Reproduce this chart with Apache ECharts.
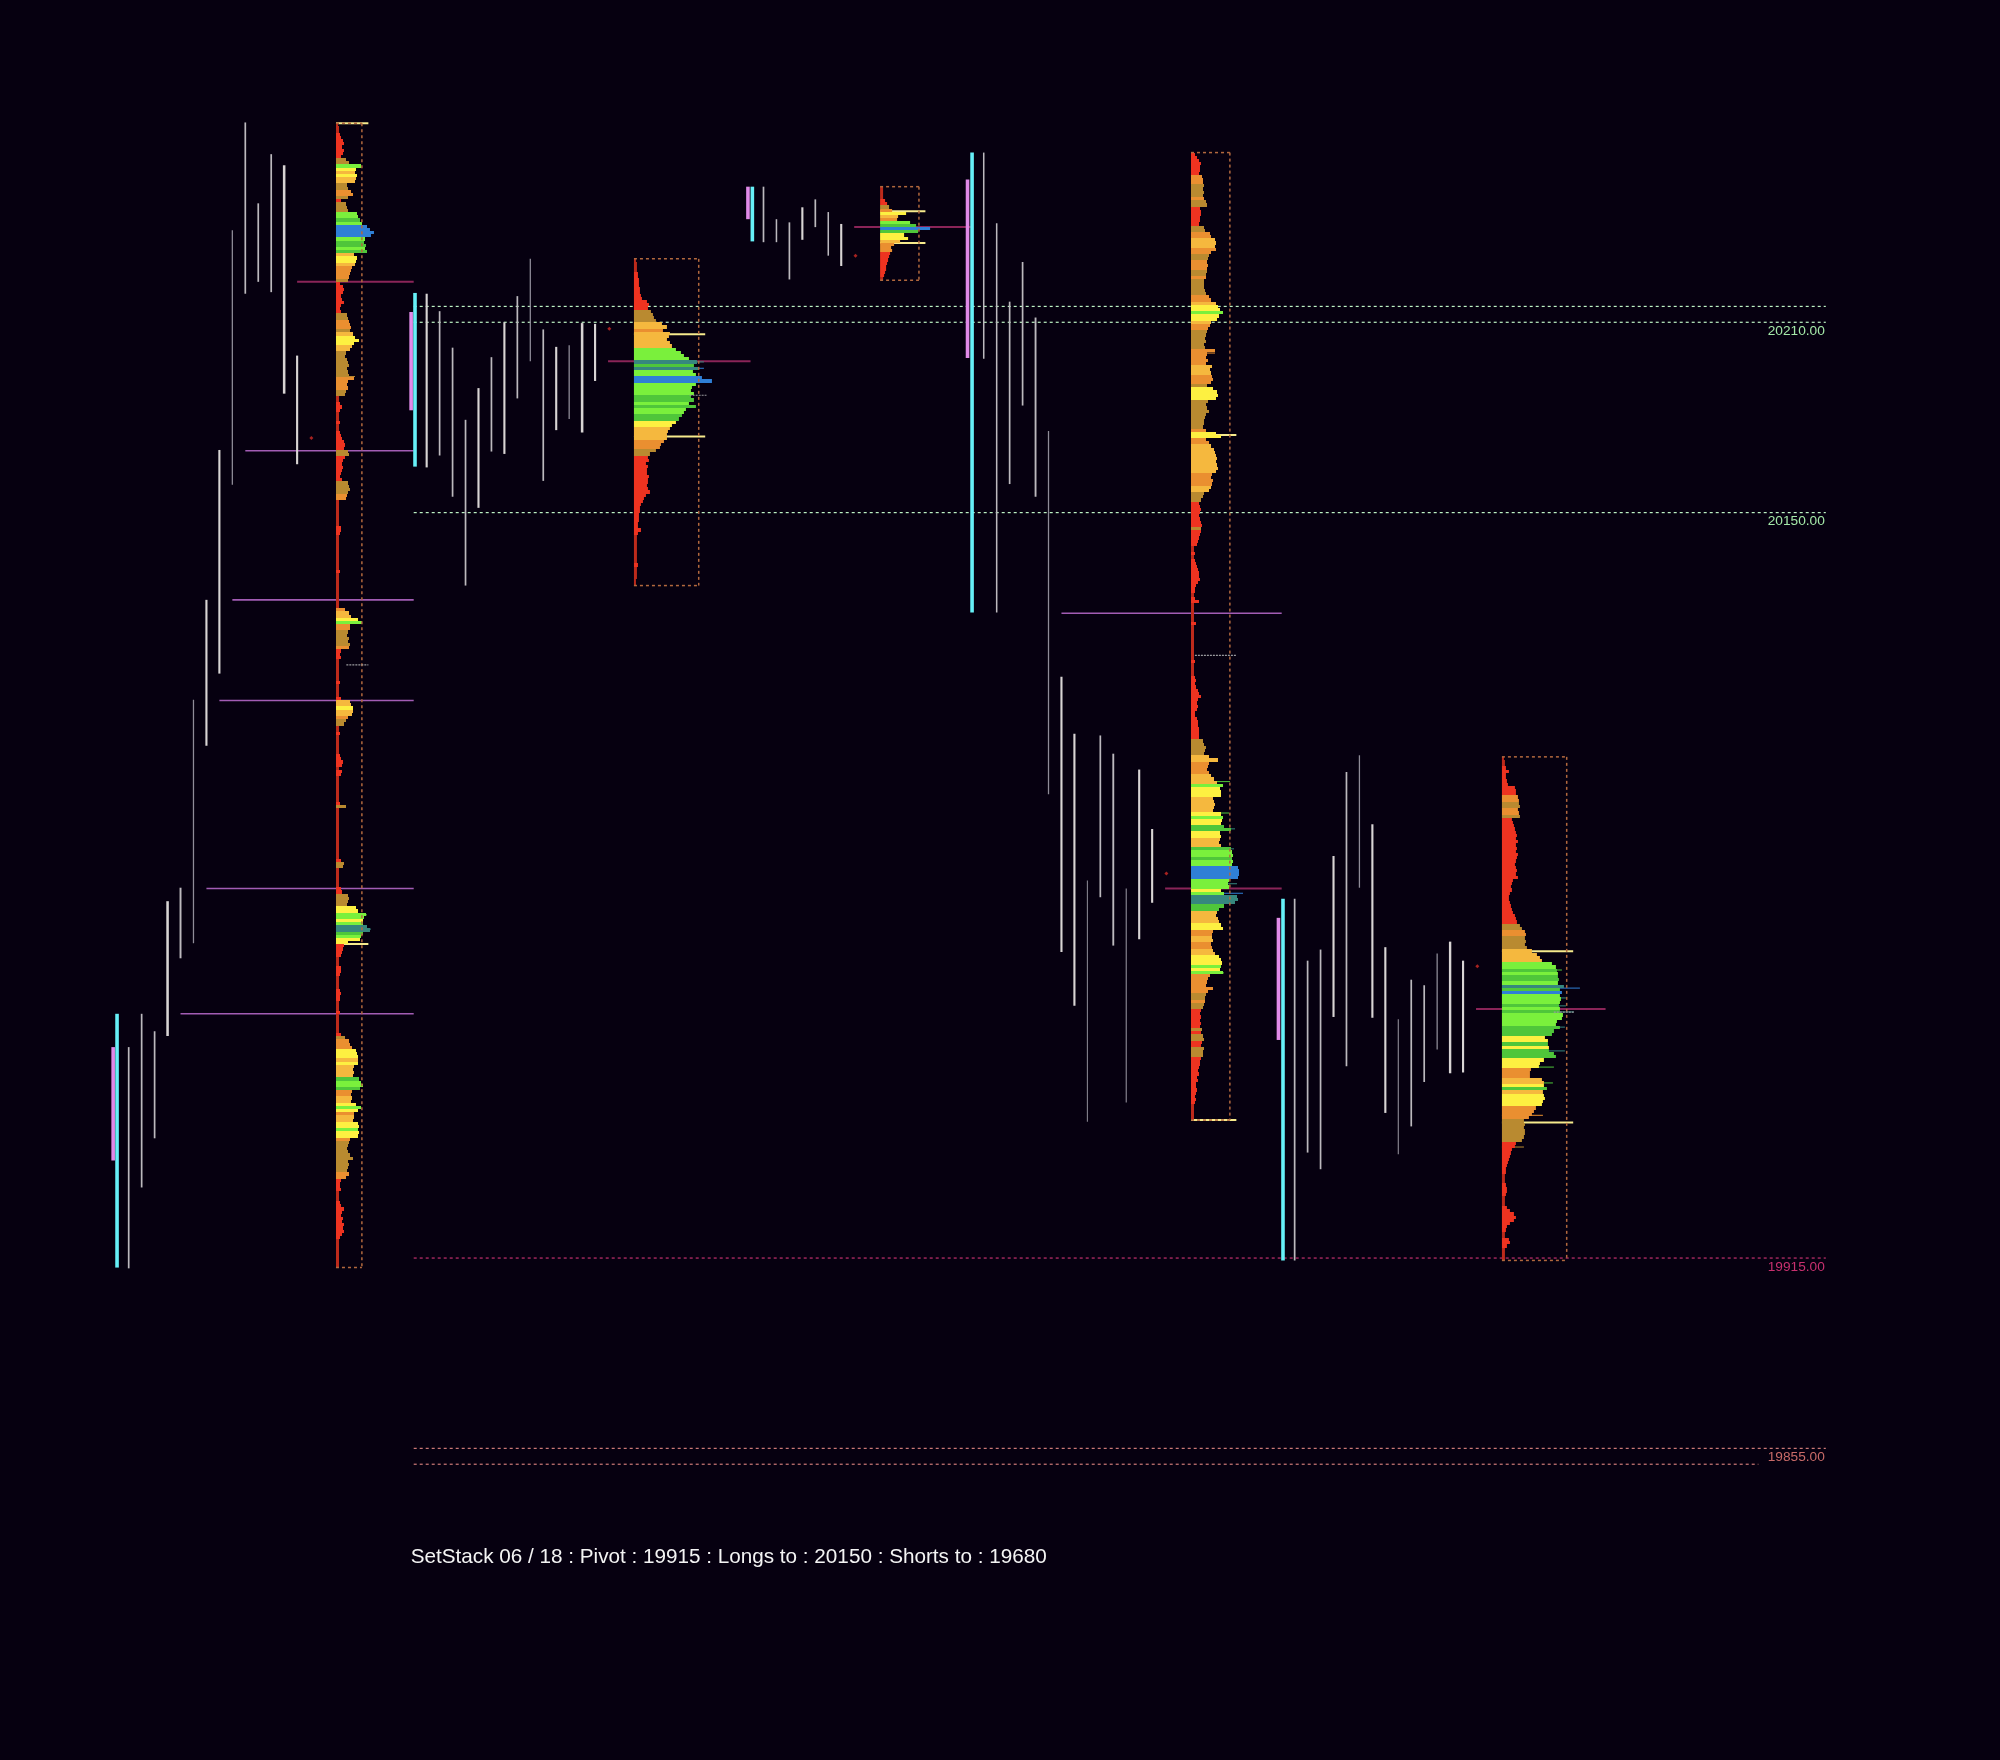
<!DOCTYPE html>
<html><head><meta charset="utf-8">
<style>html,body{margin:0;padding:0;background:#060010}#c{width:2000px;height:1760px}</style>
<script src="https://cdn.jsdelivr.net/npm/echarts@6/dist/echarts.min.js"></script>
</head><body><div id="c"></div>
<script>
// ---------- Price bars per session (first slot, highs, lows, line weights) ----------
const s1Start=0;
const s1High=[19981.5,19992,19986.5,20027.5,20031.75,20091,20122.5,20169.75,20239,20273,20247.5,20263,20259.5,20199.5];
const s1Low=[19911.75,19937.25,19952.75,19985,20009.5,20014.25,20076.5,20099.25,20158.75,20219,20222.75,20219.5,20187.5,20165.25];
const s1Weight=[2,2,2,3,2.3,1.5,2.5,2.5,1.5,2,2,2,3,2.5];
const s2Start=23;
const s2High=[20219,20213.5,20202,20179.25,20189.25,20199,20210,20218.25,20230,20207.75,20202.25,20202.75,20209.75,20209.5];
const s2Low=[20164.25,20168,20155,20127,20151.5,20169.25,20168.5,20186,20197.75,20160,20176,20179.5,20175.25,20191.5];
const s2Weight=[2.5,2,2,2,2.5,2,2.5,2,1.5,2,2.5,1.5,3,2.5];
const s3Start=49;
const s3High=[20252.75,20242.5,20241.5,20246.25,20248.75,20244.75,20241];
const s3Low=[20235.25,20235.25,20223.5,20236,20240,20231,20227.75];
const s3Weight=[2,1.8,2,2.5,2,1.8,2.5];
const s4Start=66;
const s4High=[20263.5,20241.25,20216.5,20229,20211.5,20175.75,20098.25,20080.25,20034,20079.75,20074,20031.5,20069,20050.25];
const s4Low=[20198.5,20118.5,20159,20183.75,20155,20061.25,20011.5,19994.5,19958,20028.75,20013.5,19964,20015.5,20027];
const s4Weight=[1.8,1.8,2,2,2.2,1.5,2.5,2.5,1.2,2,2.2,1.3,2.5,2.5];
const s5Start=90;
const s5High=[20028.25,20008.75,20012.25,20041.75,20068.25,20073.5,20051.75,20013,19990.25,20002.75,20001,20011,20014.75,20008.75];
const s5Low=[19914.25,19948.25,19943,19991,19975.5,20031.75,19990.75,19960.75,19947.75,19956.5,19970.5,19980.75,19973.25,19973.5];
const s5Weight=[2,2,2,2.5,2,1.5,2.5,2.5,1.3,2,2,1.5,2.8,2.5];

// ---------- Opening range markers: [slot, high, low] ----------
const cyanRanges=[[-0.9,19992,19912],[22.1,20219.25,20164.5],[48.14,20252.75,20235.5],[65.1,20263.5,20118.5],[89.1,20028.25,19914.25]];
const pinkRanges=[[-1.2,19981.5,19945.75],[21.8,20213.25,20182.25],[47.8,20252.75,20242.5],[64.75,20255,20198.75],[88.75,20022.25,19983.75]];
// ---------- Small red closing marks: [slot, price] ----------
const redDots=[[14.1,20173.5],[37.1,20208],[56.1,20231],[80.1,20036.25],[104.1,20007]];

// ---------- Horizontal levels ----------
const levelPrices=[20215,20210,20150,19915,19855,19850];
const levelStarts=[22,22,22,22,22,22];
const levelEnds=[131,131,131,131,131,125.8];
const levelColors=['#bdf2c4','#bdf2c4','#bdf2c4','#c2306f','#cf7a78','#cf7a78'];
const levelLabels=['', '20210.00','20150.00','19915.00','19855.00',''];
const labelColors=['', '#a4e8a8','#a4e8a8','#c8306f','#c86a68',''];

// ---------- Untested session levels: [price, from slot, to slot] ----------
const purpleLevels=[[20169.5,9,22],[20122.5,8,22],[20090.75,7,22],[20031.5,6,22],[19992,4,22],[20118.25,72,89]];
const pocLevels=[[20222.75,13,22],[20197.75,37,48],[20240,56,65],[20031.5,80,89],[19993.5,104,114]];

// ---------- Volume profiles ----------
const profileSlots=[16,39,58,82,106];
const profileBoxWidth=[2,5,3,3,5];
const profileHigh=[20272.75,20230,20252.75,20263.5,20073];
const profileLow=[19912,20127,20223.25,19958.5,19914.25];
const valueLines=[[20272.75,20014],[20206.25,20174],[20245,20235],[20174.5,19958.5],[20011.75,19957.75]];
// [price, from slot, to slot]
const greyLines=[[20102,16.8,18.5],[20187,43.3,44.6],[20105,82.3,85.5],[19992.5,110,111.6]];
// thin protruding rows: [price, profile number, volume, band]
const spikeRows=[[20023.2,0,31,'g'],[20018.7,0,35,'t'],[20192.9,0,19,'m'],[20197.5,1,70,'t'],[20195.5,1,70,'b'],
[20065.2,3,39,'g'],[20055.3,3,38,'g'],[20050.3,3,44,'t'],[20044,3,43,'t'],[20033,3,46,'t'],[20030,3,52,'b'],[20004.9,3,33,'g'],[20000.2,3,22,'o'],[20072.3,3,27,'y'],[20213.2,3,32,'g'],[20200.3,3,24,'o'],
[20000.1,4,78,'b'],[19992.6,4,72,'t'],[19980.3,4,63,'t'],[19975.2,4,52,'g'],[19970.2,4,51,'g'],[19950,4,22,'m'],[19960,4,41,'o'],[20005.8,4,60,'g'],[19997,4,64,'t'],[19994.5,4,64,'t'],[19987.8,4,63,'t']];

const profile1=[['r',2,3,3,4,5,7,8,6,8,7,5],['m',10,13],['l',25],['y',20],['a',19],['y',21],['a',20,19],['m',11,12],['o',15,17],['m',12],['r',5],['m',10,11,12],['l',21,22],['g',24],['l',26],['b',31,34,38,35],['l',29],['g',28,30],['l',29],['g',31],['a',18],['y',21,20],['a',19],['o',16,15,14,13],['m',12],['r',4,7,8,7,5,6,8,5,4,5],['m',11,12],['o',13,14,15],['m',14],['a',17],['y',19,23,18],['a',16,14],['m',10,9,11,12,13,11,12,13],['o',18,12,11,12],['m',10,9],['r',3,3,4,6,4,3,3,3,4,3,3,4,5,6,8,9,8],['m',12,13],['r',9,7,6,7,6,5,4,6],['m',12,13,14,12],['o',11,10],
['r',3,3,3,3,3,3,3,3,5,5,4,3,3,3,3,3,3,3,3,3,3,3,4,3,3,3,3,3,3,3,3,3,3,3],['o',9],['a',13,15],['y',22],['l',26],['o',14,14],['m',12,11,13,12,14],['o',13],['r',5,4,5,3,3,3,3,3,3,3,4,3,3,3,3,5],['a',14,15],['y',17],['a',17,16],['o',12],['m',10,8],['r',3,3,4,3,3,3,3,3,3,4,5,7,6,3,6,5,3,3,3,3,3,3,3,3,4],['m',10],['r',3,3,3,3,3,3,3,3,3,3,3,3,3,3,3,3,5],['m',8,7],['r',3,3,3,3,3,3,5,6],['m',12,13],
['m',12,11],['y',20,22],['l',30,28],['y',27],['l',27],['t',31,34],['g',27],['l',25],['y',24,12],['r',8,7,6,5,3,3,3,5,5,4,3,3,3,3,4,5,4,4,3,3,3,4,3,3,3,3,3,3,5],['m',9],['o',13,14,16],['y',20,21,22],['a',22],['y',22],['a',18,17,18,17],['g',23],['l',25,27],['g',24],['o',16,15],['a',16,15],['y',20],['l',25],['y',22],['o',18],['a',18,17],['y',22,23],['l',22],['y',23,22],['o',14],['m',13,12,11,12,14,17,12,13,12,11],['o',13,10],['r',5,4,4,5,3,3,3,4,5,8,6,5,7,6,8,7,8,6,4,3,3,3,3,3,3,3,3,3]];
const profile2=[['r',2,3,3,3,4,4,5,5,5,6,6,7,8,13,15,14],['m',17,19,20,22],['a',28,33],['o',29],['a',36,35,33,36,38],['l',42,47,50,55],['t',63],['g',60],['t',65],['l',59,62],['b',68,78],['l',62,58,57,60],['g',57,60],['l',55],['g',62],['l',52,50],['g',48,45],['y',42,38],['a',36,34,33,33],['o',30,27,26],['m',22,16],['r',14,15,12,14,13,13,15,14,14,13,14,16,12,10,9,7,6,6,5,5,5,4,4,7,4,3,3,3,3,3,3,3,3,3,4,3,3,3,3,2,2]];
const profile3=[['r',3,3,3,3,5,7],['m',9],['o',12],['y',26],['a',18],['o',17],['l',30],['g',36],['b',50],['g',38],['y',24,28],['a',20],['o',14,11,12],['r',10,9,8,7,6,6,5,4,3]];
const profile4=[['r',4,6,8,10,9,9,8],['o',11,12,12],['m',13,12,13,12],['o',13],['m',15,16],['r',9,10,10,9,9,8],['m',13,14],['o',19,20],['a',24,25,24],['o',25,20],['m',18,17],['o',16,17,16],['m',16,15],['o',15],['m',13,13,13,14,15],['o',18,20],['a',25],['y',27,29],['l',32],['y',28,26],['a',20],['o',19,17],['m',16,15,14,15,13,14],['o',24,16,15,17,15],['a',21,19,20],['o',21,22,20],['m',16],['y',22,26,27,25],['m',17,15,16,18,15,14,13,13,12],['o',15],['y',25,30],['o',15,18],['a',20,23,24,25,26,25,26,27,25],['o',21,20,22,21],['a',20,18],['m',13,12,10],['r',8,9,10,9,8,9,10,11],['m',10],['r',10,9,8,7,6,3,3,4,3,4,5,6,7,8,8,9,7,5,4,4,3,4,8,3,3,3,3,3,3,5,3,3,3,3,3],
['r',3,3,3,3,3,3,4,3,3,3,3,4,5,4,5,7,8,10,7,6,7,6,4,4,6,7,7,8,8,8,8],['m',12,13,15,14,13],['a',18,27],['o',18,17,16,18],['a',20,23,26],['l',32],['y',29,30,30],['a',22,23,24,23,22],['y',30],['l',32],['y',31,30],['g',33,40],['y',29,30],['a',29,28,30],['g',40],['l',41,42],['g',41],['l',42,41],['b',47,48,48,47],['l',38,37,38],['y',30],['l',33],['t',46,47,44],['g',33,28],['a',26,25,27,28],['y',30,32],['o',22,21],['a',21,22],['o',20,21],['a',22,24],['y',28,30,31],['l',30],['y',29],['l',32],['o',19,17,16,15,22,17],['m',15,14],['o',14],['m',13,12],['r',10,9,10,9,10,9],['m',11],['r',10],['m',12,13],['r',11,10],['m',13,12,12],['r',10,9,9,8,7,8,6,7,5,5,6,5,4,5,4,3,3,3,3,3]];
const profile5=[['r',2,3,3,4,7,4,4,5,6,13,14,14],['o',16,17],['m',17,18],['o',16,17],['m',18],['r',10,11,12,13,14,15,14,16,14,15,14,16,15,14,13,14,15,14,16,11,10,9,10,8,7,7,8,9,10,11,13,14,15],['m',18,20],['o',23,24],['m',23,24,23,25],['a',30,35,38,40],['l',50,54],['g',55],['l',56],['g',56,57],['l',56],['t',62],['g',58],['b',60],['l',58,59,58],['g',57],['l',58],['g',58],['l',61,60,55,54],['g',58,52,50],['y',43,46],['g',46],['y',47],['g',47,52,54],['y',42,38,37],['o',29,28,28],['a',40,42],['y',42],['g',45],['a',41],['y',42,43,41,40],['o',34,32,30,27],['m',22,23,22,23,23,22,20],['r',14,13,10,9,8,7,6,5,4,4,3,3,3,4,5,5,4,3,3,3,5,8,12,14,12,8,5,4,3,3,7,8,5,3,3,3,3]];
const profiles=[profile1,profile2,profile3,profile4,profile5];

const bandColors={r:'#ee3320',m:'#b98a30',o:'#ea8f30',a:'#f5b83e',y:'#fdf041',l:'#7af03c',g:'#4fc63a',t:'#36877e',b:'#2f7fd6'};
const titleText='SetStack 06 / 18 : Pivot : 19915 : Longs to : 20150 : Shorts to : 19680';

// ---------- Build drawing tables ----------
const slotPx=12.955, volumeToSlot=1/slotPx;
const rows=[];
profiles.forEach((groups,i)=>{
  const n=groups.reduce((s,g)=>s+g.length-1,0);
  const step=(profileHigh[i]-profileLow[i])/n;
  let k=0;
  groups.forEach(g=>{
    for(let j=1;j<g.length;j++){
      const w=g[j];
      const col=(g[0]==='r'&&w<=3)?'#bd2a1b':bandColors[g[0]];
      rows.push({x:profileSlots[i],hi:profileHigh[i]-k*step,lo:profileHigh[i]-(k+1)*step,w:w*volumeToSlot,col});
      k++;
    }
  });
});
const barsTable=[];
[[s1Start,s1High,s1Low,s1Weight],[s2Start,s2High,s2Low,s2Weight],[s3Start,s3High,s3Low,s3Weight],[s4Start,s4High,s4Low,s4Weight],[s5Start,s5High,s5Low,s5Weight]]
.forEach(([st,h,l,w])=>h.forEach((v,i)=>barsTable.push([st+i,v,st+i,l[i],w[i]<1.6?'#8f8c98':(w[i]>=2.5?'#d8d4d4':'#bcb9be'),w[i]*0.85])));

function seg(name,table,z,dash){
  return {type:'custom',name,z,silent:true,animation:false,progressive:0,clip:false,
    data:table.map((t,i)=>[t[0],t[1],t[2],t[3],i]),
    encode:{x:[0,2],y:[1,3]},
    renderItem(p,api){
      const t=table[p.dataIndex];
      const a=api.coord([t[0],t[1]]),b=api.coord([t[2],t[3]]);
      return {type:'line',shape:{x1:a[0],y1:a[1],x2:b[0],y2:b[1]},
        style:{stroke:t[4],lineWidth:t[5],lineDash:dash||null}};
    }};
}
const levelTable=levelPrices.map((p,i)=>[levelStarts[i],p,levelEnds[i],p,levelColors[i],1.2]);
const purpleTable=purpleLevels.map(l=>[l[1],l[0],l[2],l[0],'#a25cb4',1.6]);
const pocTable=pocLevels.map(l=>[l[1],l[0],l[2],l[0],'#8a2458',2]);
const cyanTable=cyanRanges.map(r=>[r[0],r[1],r[0],r[2],'#66f0f8',3.6]);
const pinkTable=pinkRanges.map(r=>[r[0],r[1],r[0],r[2],'#e08ae8',3.6]);
const boxTable=[];
profileSlots.forEach((s,i)=>{
  const r=s+profileBoxWidth[i],hi=profileHigh[i],lo=profileLow[i];
  boxTable.push([s,hi,r,hi,'#b2683e',1.5],[r,hi,r,lo,'#b2683e',1.5],[s,lo,r,lo,'#b2683e',1.5]);
});
const valueTable=[];
valueLines.forEach((v,i)=>{
  const e=profileSlots[i]+profileBoxWidth[i]+0.5;
  valueTable.push([profileSlots[i],v[0],e,v[0],'#f6ea8c',2],[profileSlots[i],v[1],e,v[1],'#f6ea8c',2]);
});
const greyTable=greyLines.map(l=>[l[1],l[0],l[2],l[0],'#9a9a9e',1.2]);
const spikeTable=spikeRows.map(s=>[profileSlots[s[1]],s[0],profileSlots[s[1]]+s[2]*volumeToSlot,s[0],bandColors[s[3]],1]);

const chart=echarts.init(document.getElementById('c'),null,{renderer:'canvas'});
chart.setOption({
  backgroundColor:'#060010',animation:false,
  title:{text:titleText,left:405.7,top:1542,textStyle:{color:'#f4f4f4',fontFamily:'Liberation Sans',fontSize:20.7,fontWeight:'normal'}},
  grid:{left:0,right:0,top:0,bottom:0},
  xAxis:{type:'value',min:-128.7/slotPx,max:(2000-128.7)/slotPx,show:false},
  yAxis:{type:'value',min:19756.76,max:20311.6,show:false},
  series:[
    seg('levels',levelTable,1,[3,3]),
    seg('purple',purpleTable,2),
    seg('poc',pocTable,2),
    seg('bars',barsTable,3),
    seg('pink',pinkTable,4),
    seg('cyan',cyanTable,5),
    seg('value',valueTable,5),
    seg('spikes',spikeTable,5),
    {type:'custom',name:'profile',z:6,silent:true,animation:false,progressive:0,clip:false,
      data:rows.map(r=>[r.x,r.hi,r.x+r.w,r.lo]),encode:{x:[0,2],y:[1,3]},
      renderItem(p,api){
        const r=rows[p.dataIndex];
        const a=api.coord([r.x,r.hi]),b=api.coord([r.x+r.w,r.lo]);
        const y1=Math.round(a[1]),y2=Math.round(b[1]);
        return {type:'rect',shape:{x:a[0],y:y1,width:b[0]-a[0],height:y2-y1},style:{fill:r.col}};
      }},
    seg('box',boxTable,7,[3,3]),
    seg('grey',greyTable,8,[2,1]),
    {type:'scatter',name:'dots',z:8,silent:true,animation:false,symbol:'diamond',symbolSize:4,itemStyle:{color:'#d02a24'},data:redDots},
    {type:'custom',name:'labels',z:9,silent:true,animation:false,
      data:levelPrices.map((p,i)=>[levelEnds[i],p]),
      renderItem(p,api){
        const i=p.dataIndex;
        if(!levelLabels[i])return null;
        const c=api.coord([levelEnds[i],levelPrices[i]]);
        return {type:'text',x:c[0]-1,y:c[1]+9,style:{text:levelLabels[i],fill:labelColors[i],font:'13.7px "Liberation Sans"',textAlign:'right',textVerticalAlign:'middle'}};
      }}
  ]
});
</script></body></html>
